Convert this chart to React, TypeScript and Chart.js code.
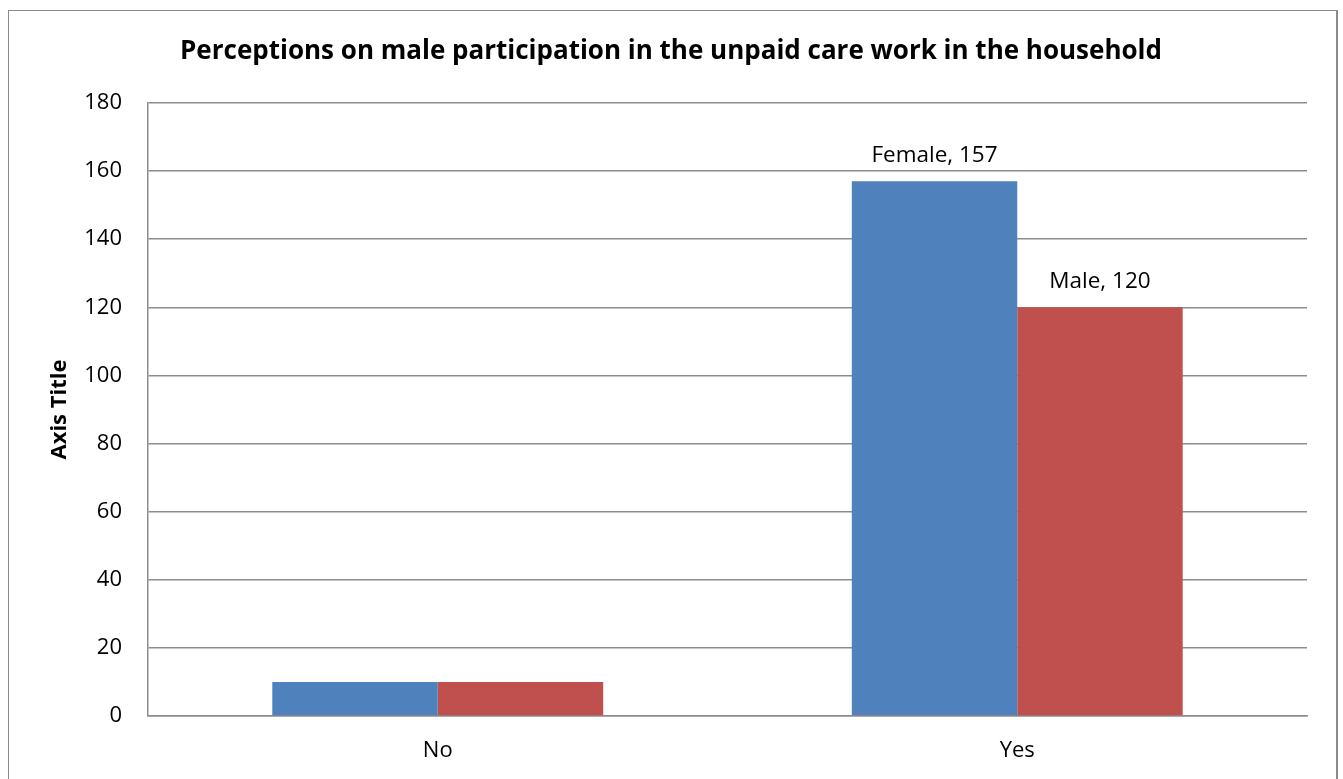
import React, { useEffect, useRef } from "react";
import { Chart, registerables } from "chart.js";

Chart.register(...registerables);

const categories = ["No", "Yes"];
const seriesNames = ["Female", "Male"];
const femaleValues = [10, 157];
const maleValues = [10, 120];
const seriesColors = ["#4F81BD", "#C0504D"];
const showValueLabel = [false, true];
const yTicks = { min: 0, max: 180, step: 20 };
const chartTitle = "Perceptions on male participation in the unpaid care work in the household";
const yAxisTitle = "Axis Title";

const FONT = "'Open Sans', 'Noto Sans', sans-serif";

export default function App() {
  const ref = useRef<HTMLCanvasElement | null>(null);

  useEffect(() => {
    if (!ref.current) return;
    const textPlugin = {
      id: "textPlugin",
      afterDraw(chart: any) {
        const ctx = chart.ctx;
        const area = chart.chartArea;
        ctx.save();
        ctx.fillStyle = "#000";
        ctx.textAlign = "center";
        ctx.textBaseline = "middle";
        ctx.font = `bold 26px ${FONT}`;
        ctx.fillText(chartTitle, 662, 41);
        ctx.save();
        ctx.translate(51, (area.top + area.bottom) / 2);
        ctx.rotate(-Math.PI / 2);
        ctx.font = `bold 22px ${FONT}`;
        ctx.fillText(yAxisTitle, 0, 0);
        ctx.restore();
        ctx.font = `22.5px ${FONT}`;
        chart.data.datasets.forEach((ds: any, di: number) => {
          const meta = chart.getDatasetMeta(di);
          meta.data.forEach((el: any, i: number) => {
            if (!showValueLabel[i]) return;
            ctx.fillText(`${ds.label}, ${ds.data[i]}`, el.x, el.y - 26);
          });
        });
        ctx.restore();
      },
    };

    const chart = new Chart(ref.current, {
      type: "bar",
      data: {
        labels: categories,
        datasets: [
          { label: seriesNames[0], data: femaleValues, backgroundColor: seriesColors[0] },
          { label: seriesNames[1], data: maleValues, backgroundColor: seriesColors[1] },
        ],
      },
      options: {
        responsive: false,
        animation: false,
        categoryPercentage: 0.571,
        barPercentage: 1,
        layout: { padding: { top: 92, right: 28, left: 0, bottom: 0 } },
        plugins: { legend: { display: false }, title: { display: false }, tooltip: { enabled: false } },
        scales: {
          x: {
            grid: { display: false, drawTicks: false },
            border: { display: true, color: "#8c8c8c", width: 1.5 },
            ticks: { color: "#000", padding: 22, font: { family: FONT, size: 22 } },
            afterFit(scale: any) {
              scale.height = 75;
            },
          },
          y: {
            min: yTicks.min,
            max: yTicks.max,
            grid: { color: "#8c8c8c", lineWidth: 1.5, drawTicks: false },
            border: { display: true, color: "#8c8c8c", width: 1.5 },
            ticks: { stepSize: yTicks.step, color: "#000", padding: 26, font: { family: FONT, size: 22 } },
            afterFit(scale: any) {
              scale.width = 139;
            },
          },
        },
      },
      plugins: [textPlugin],
    } as any);
    return () => chart.destroy();
  }, []);

  return (
    <div
      style={{
        position: "fixed",
        left: 8,
        top: 10,
        width: 1330,
        height: 800,
        boxSizing: "border-box",
        borderTop: "1px solid #8a8a8a",
        borderLeft: "1px solid #8a8a8a",
        borderRight: "2px solid #8a8a8a",
        background: "#fff",
        overflow: "hidden",
      }}
    >
      <canvas ref={ref} width={1326} height={780} style={{ display: "block", width: 1326, height: 780 }} />
    </div>
  );
}
